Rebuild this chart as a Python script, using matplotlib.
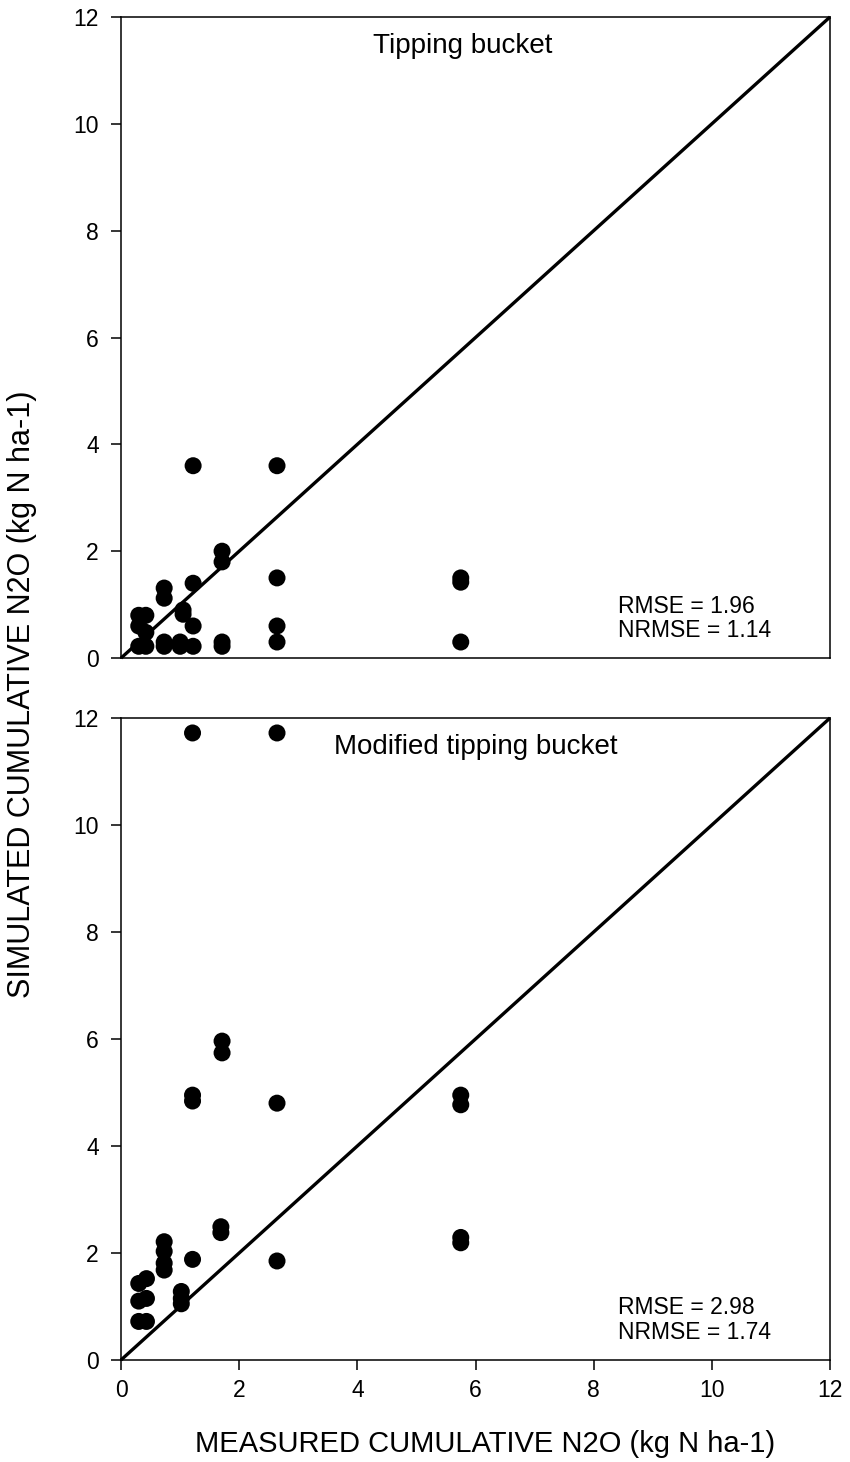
import matplotlib
matplotlib.use("Agg")
import matplotlib.pyplot as plt

plt.rcParams["font.family"] = ["Liberation Sans", "DejaVu Sans"]

# measured vs simulated cumulative N2O (kg N ha-1)
tb_measured = [0.30, 0.30, 0.30, 0.42, 0.42, 0.42,
               0.73, 0.73, 0.73, 0.73, 1.00, 1.00, 1.05, 1.05,
               1.22, 1.22, 1.22, 1.22, 1.71, 1.71, 1.71, 1.71,
               2.64, 2.64, 2.64, 2.64, 5.75, 5.75, 5.75]
tb_simulated = [0.80, 0.60, 0.22, 0.80, 0.48, 0.22,
                1.31, 1.12, 0.30, 0.22, 0.30, 0.22, 0.90, 0.82,
                3.60, 1.40, 0.60, 0.22, 2.00, 1.80, 0.30, 0.22,
                3.60, 1.50, 0.60, 0.30, 1.50, 1.42, 0.30]

mtb_measured = [0.30, 0.30, 0.30, 0.43, 0.43, 0.43,
                0.73, 0.73, 0.73, 0.73, 1.02, 1.02, 1.02,
                1.21, 1.21, 1.21, 1.21, 1.69, 1.69, 1.71, 1.71,
                2.64, 2.64, 2.64, 5.75, 5.75, 5.75, 5.75]
mtb_simulated = [1.43, 1.10, 0.72, 1.52, 1.15, 0.72,
                 2.21, 2.03, 1.81, 1.68, 1.28, 1.15, 1.05,
                 11.72, 4.95, 4.84, 1.88, 2.49, 2.38, 5.96, 5.74,
                 11.72, 4.80, 1.85, 4.95, 4.77, 2.29, 2.19]

titles = ["Tipping bucket", "Modified tipping bucket"]
title_x = [0.482, 0.50]
rmse = ["RMSE = 1.96", "RMSE = 2.98"]
nrmse = ["NRMSE = 1.14", "NRMSE = 1.74"]
ticks = [0, 2, 4, 6, 8, 10, 12]

fig = plt.figure(figsize=(8.5, 14.62), dpi=100)
ax_top = fig.add_axes([0.1424, 0.5499, 0.8341, 0.4385])
ax_bot = fig.add_axes([0.1424, 0.0698, 0.8341, 0.4391])
series = [(tb_measured, tb_simulated), (mtb_measured, mtb_simulated)]

for i, ax in enumerate([ax_top, ax_bot]):
    xs, ys = series[i]
    ax.set_xlim(0, 12)
    ax.set_ylim(0, 12)
    # 1:1 line
    ax.plot([0, 12], [0, 12], color="black", lw=2.4, clip_on=False,
            solid_capstyle="butt", zorder=2)
    ax.scatter(xs, ys, s=150, color="black", edgecolors="none",
               clip_on=False, zorder=3)
    for sp in ax.spines.values():
        sp.set_linewidth(1.1)
    ax.set_yticks(ticks)
    ax.set_xticks(ticks)
    ax.tick_params(axis="y", direction="out", length=7, width=1.1,
                   labelsize=16.5, pad=9)
    ax.tick_params(axis="x", direction="out", length=7, width=1.1,
                   labelsize=16.5, pad=6.5)
    ax.text(title_x[i], 0.955, titles[i], transform=ax.transAxes,
            ha="center", va="center", fontsize=20)
    ax.text(0.701, 0.071, rmse[i], transform=ax.transAxes, ha="left",
            va="baseline", fontsize=16.5)
    ax.text(0.701, 0.033, nrmse[i], transform=ax.transAxes, ha="left",
            va="baseline", fontsize=16.5)

ax_top.tick_params(axis="x", length=0, labelbottom=False)

fig.text(485 / 850, 1 - 1444 / 1462, "MEASURED CUMULATIVE N2O (kg N ha-1)",
         ha="center", va="center", fontsize=21)
fig.text(22 / 850, 1 - 694 / 1462, "SIMULATED CUMULATIVE N2O (kg N ha-1)",
         ha="center", va="center", rotation=90, fontsize=22)

fig.savefig("out.png", dpi=100)
